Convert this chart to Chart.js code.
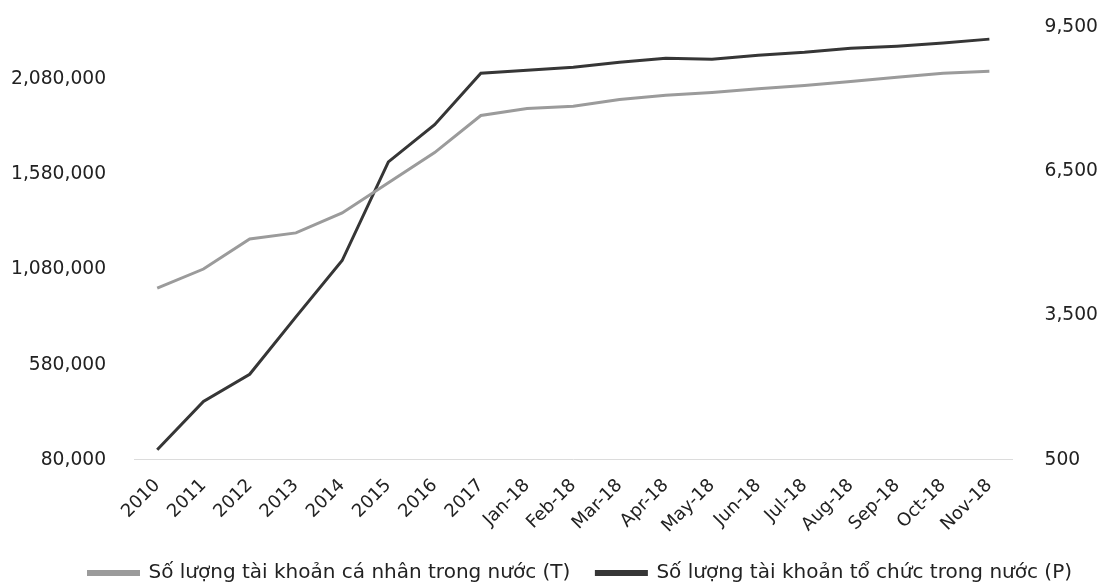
<!DOCTYPE html>
<html>
<head>
<meta charset="utf-8">
<script src="https://cdn.jsdelivr.net/npm/chart.js@4/dist/chart.umd.min.js"></script>
<style>
html,body{margin:0;padding:0;background:#fff;}
#wrap{width:1101px;height:584px;position:relative;}
</style>
</head>
<body>
<div id="wrap"><canvas id="c"></canvas></div>
<script>
const categories = ["2010","2011","2012","2013","2014","2015","2016","2017","Jan-18","Feb-18","Mar-18","Apr-18","May-18","Jun-18","Jul-18","Aug-18","Sep-18","Oct-18","Nov-18"];
const personalAccounts = [982000,1083000,1241000,1273000,1378000,1536000,1695000,1890000,1927000,1938000,1974000,1996000,2011000,2030000,2048000,2069000,2091000,2112000,2122000];
const orgAccounts = [709,1714,2279,3472,4644,6695,7469,8537,8600,8662,8767,8851,8830,8914,8976,9060,9102,9165,9248];
const leftTicks = [80000,580000,1080000,1580000,2080000];
const rightTicks = [500,3500,6500,9500];
const seriesNames = ["Số lượng tài khoản cá nhân trong nước (T)","Số lượng tài khoản tổ chức trong nước (P)"];

const FONT = "'DejaVu Sans', Verdana, sans-serif";
const fmt = v => Number(v).toLocaleString('en-US');
const fitScale = s => {
  s.paddingLeft = 0; s.paddingRight = 0; s.paddingTop = 0; s.paddingBottom = 0;
  if (s.isHorizontal()) s.height -= s.options.ticks.padding;
  else s.width -= s.options.ticks.padding;
};

new Chart(document.getElementById('c'), {
  type: 'line',
  data: {
    labels: categories,
    datasets: [
      {label: seriesNames[0], data: personalAccounts, yAxisID: 'yL',
       borderColor: '#9b9b9b', backgroundColor: '#9b9b9b', borderWidth: 3,
       pointRadius: 0, tension: 0},
      {label: seriesNames[1], data: orgAccounts, yAxisID: 'yR',
       borderColor: '#363636', backgroundColor: '#363636', borderWidth: 3,
       pointRadius: 0, tension: 0}
    ]
  },
  options: {
    responsive: true,
    maintainAspectRatio: false,
    animation: false,
    layout: {autoPadding: false, padding: {top: 27, left: 11, right: 3, bottom: -9}},
    plugins: {
      tooltip: {enabled: false},
      legend: {
        position: 'bottom',
        align: 'end',
        labels: {
          boxWidth: 50, boxHeight: 3, color: '#222',
          font: {family: FONT, size: 20}, padding: 26
        }
      }
    },
    scales: {
      x: {
        offset: true,
        afterFit: fitScale,
        grid: {display: false, drawTicks: false},
        border: {display: true, color: '#dcdcdc', width: 1},
        ticks: {color: '#222', font: {family: FONT, size: 18}, minRotation: 45, maxRotation: 45, autoSkip: false, padding: 15}
      },
      yL: {
        position: 'left', min: 80000, max: 2355000,
        afterFit: fitScale,
        grid: {display: false, drawTicks: false}, border: {display: false},
        afterBuildTicks: s => { s.ticks = leftTicks.map(v => ({value: v})); },
        ticks: {color: '#222', font: {family: FONT, size: 18.7}, padding: 28, callback: v => fmt(v)}
      },
      yR: {
        position: 'right', min: 500, max: 9500,
        afterFit: fitScale,
        grid: {display: false, drawTicks: false}, border: {display: false},
        afterBuildTicks: s => { s.ticks = rightTicks.map(v => ({value: v})); },
        ticks: {color: '#222', font: {family: FONT, size: 18.7}, padding: 32, callback: v => fmt(v)}
      }
    }
  }
});
</script>
</body>
</html>
